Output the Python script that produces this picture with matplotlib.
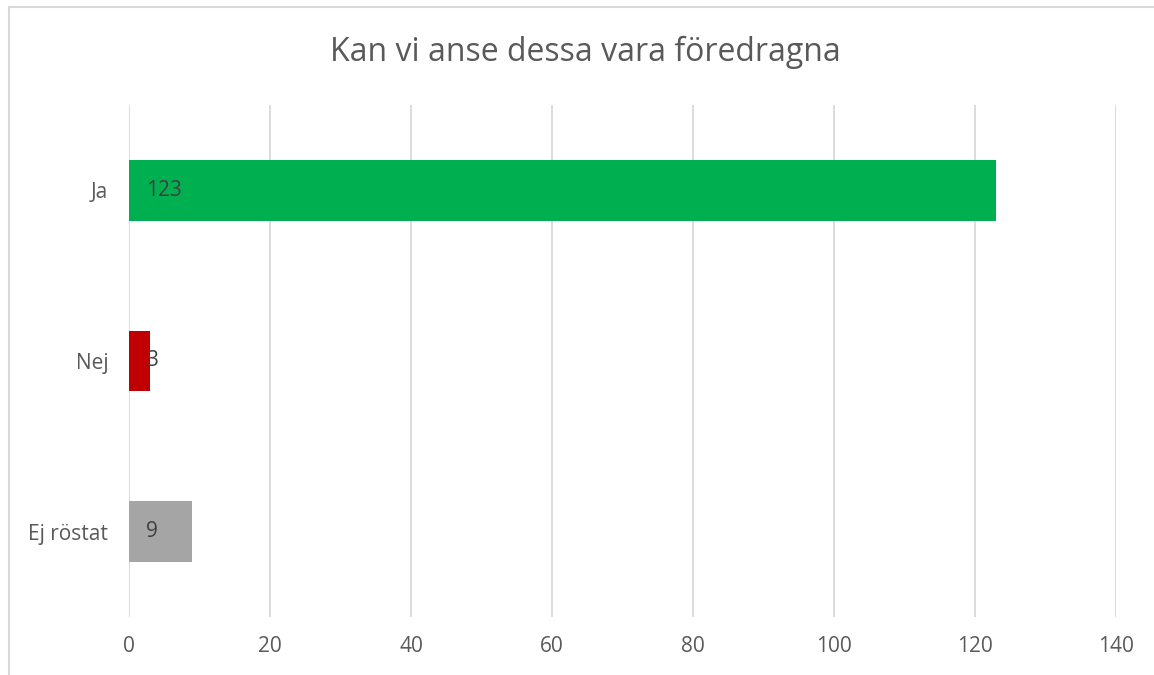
import matplotlib.pyplot as plt
from matplotlib.lines import Line2D

categories = ['Ja', 'Nej', 'Ej röstat']
values = [123, 3, 9]
colors = ['#00B050', '#C00000', '#A5A5A5']
xticks = [0, 20, 40, 60, 80, 100, 120, 140]

plt.rcParams['font.family'] = ['Open Sans', 'DejaVu Sans']

fig = plt.figure(figsize=(11.54, 6.75), dpi=100)
ax = fig.add_axes([129 / 1154, 1 - 617 / 675, (1116 - 129) / 1154, (617 - 105) / 675])

ypos = list(range(len(categories)))
ax.barh(ypos, values, height=0.357, color=colors, zorder=3)
for y, v in zip(ypos, values):
    ax.annotate(str(v), (0, y), xytext=(12, 0), textcoords='offset points',
                va='center', ha='left', fontsize=15, color='#404040', zorder=4)

ax.set_xlim(0, 140)
ax.set_ylim(len(categories) - 0.5, -0.5)
ax.set_xticks(xticks)
ax.set_yticks(ypos)
ax.set_yticklabels(categories)
ax.tick_params(axis='x', length=0, pad=14, labelsize=15, labelcolor='#595959')
ax.tick_params(axis='y', length=0, pad=15, labelsize=15, labelcolor='#595959')
ax.grid(axis='x', color='#D9D9D9', linewidth=1.3, zorder=0)
for s in ax.spines.values():
    s.set_visible(False)

fig.text(585 / 1154, 1 - 52 / 675, 'Kan vi anse dessa vara föredragna',
         ha='center', va='center', fontsize=23, color='#595959')

# chart frame (left and top edges visible)
fig.add_artist(Line2D([8.5 / 1154, 8.5 / 1154], [0, 1 - 6.5 / 675],
                      transform=fig.transFigure, color='#D9D9D9', linewidth=1.5))
fig.add_artist(Line2D([8.5 / 1154, 1], [1 - 6.5 / 675, 1 - 6.5 / 675],
                      transform=fig.transFigure, color='#D9D9D9', linewidth=1.5))

plt.savefig('out.png', dpi=100)
plt.close()
